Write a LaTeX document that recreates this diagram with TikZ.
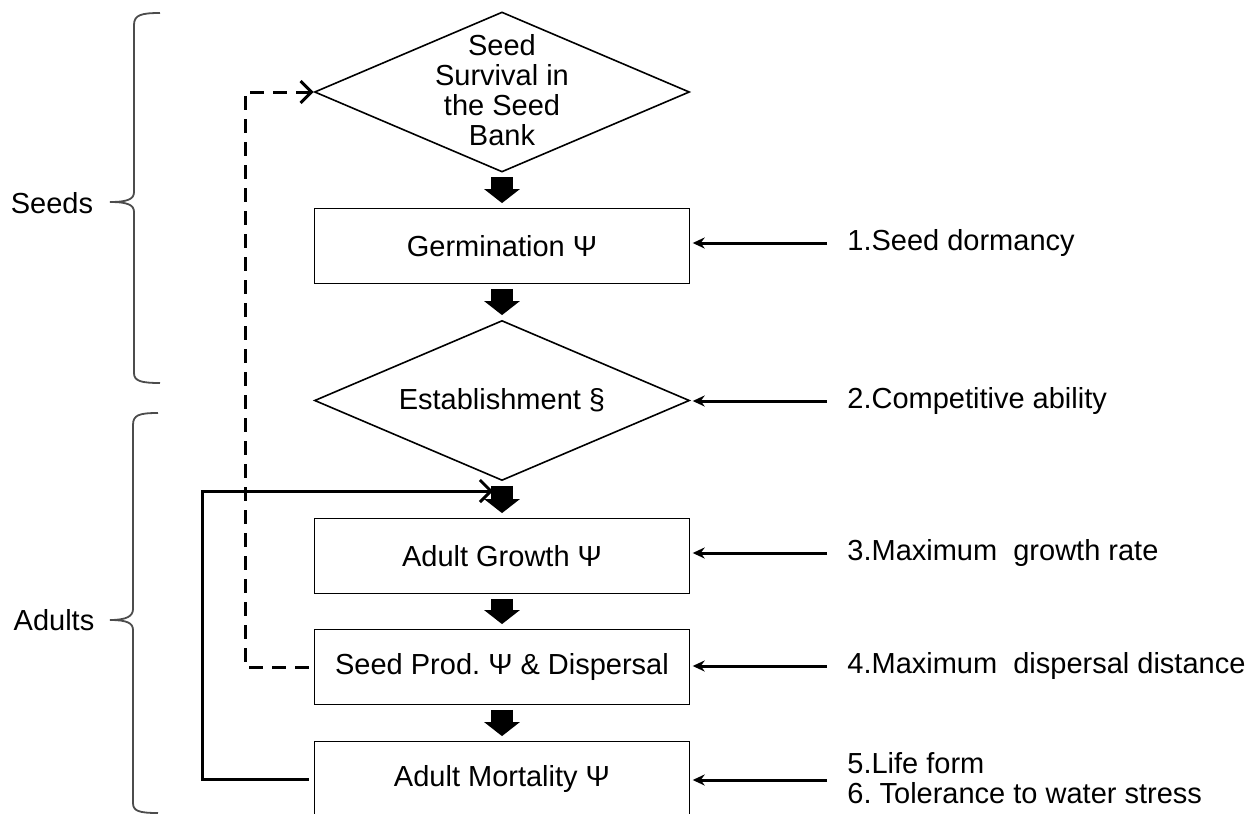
\documentclass[tikz,border=0pt]{standalone}
\usepackage{fontspec}
\setmainfont{Liberation Sans}
\usetikzlibrary{shapes.geometric,arrows.meta}

\begin{document}
\begin{tikzpicture}[x=0.5pt, y=-0.5pt,
    every node/.style={font=\fontsize{14.5}{15}\selectfont},
    box/.style={draw, line width=0.8pt, minimum width=187.5pt, minimum height=37.5pt, inner sep=0pt},
    dia/.style={draw, diamond, aspect=2.34, line width=0.8pt, minimum width=187.5pt, minimum height=80pt, inner sep=0pt},
    flow/.style={line width=11pt, -{Triangle[width=17.5pt,length=7pt]}, shorten <=2.3pt, shorten >=2.3pt},
    trait/.style={anchor=west, inner sep=0pt, align=left},
    traitline/.style={line width=1.5pt, -{Stealth[length=6pt,width=5.5pt]}, shorten <=10pt, shorten >=1.2pt},
    back/.style={line width=1.5pt, -{Straight Barb[length=5.5pt,width=11pt]}},
    brc/.style={line width=0.9pt, black!70}]

    \useasboundingbox (0,0) rectangle (1254,814);

    \node[dia] (SB) at (502,92) {};
    \node[align=center] (SBt) at (502,90) {Seed\\Survival in\\the Seed\\Bank};
    \node[box] (GE) at (502,246) {Germination Ψ};
    \node[dia] (ES) at (502,400.5) {Establishment §};
    \node[box] (AG) at (502,556) {Adult Growth Ψ};
    \node[box] (SP) at (502,667) {Seed Prod.\ Ψ \& Dispersal};
    \node[box] (AM) at (502,779) {Adult Mortality Ψ};

    \node[trait] (T1) at (847,243) {1.Seed dormancy};
    \node[trait] (T2) at (847,401) {2.Competitive ability};
    \node[trait] (T3) at (847,553) {3.Maximum~~growth rate};
    \node[trait] (T4) at (847,666) {4.Maximum~~dispersal distance};
    \node[trait] (T5) at (847,778) {5.Life form\\6.\ Tolerance to water stress};

    \node (Se) at (52,203) {Seeds};
    \node (Ad) at (54,620) {Adults};

    \coordinate (FB) at (493,491);
    \coordinate (FBc) at (202,491);
    \coordinate (DSc) at (245,92);

    \draw[flow] (SB.south) to (GE.north);
    \draw[flow] (GE.south) to (ES.north);
    \draw[flow] (ES.south) to (AG.north);
    \draw[flow] (AG.south) to (SP.north);
    \draw[flow] (SP.south) to (AM.north);

    \draw[traitline] (T1.west) to (T1.west -| GE.east);
    \draw[traitline] (T2.west) to (T2.west -| ES.east);
    \draw[traitline] (T3.west) to (T3.west -| AG.east);
    \draw[traitline] (T4.west) to (T4.west -| SP.east);
    \draw[traitline] ([yshift=-1pt]T5.west) to ([yshift=-1pt]T5.west -| AM.east);

    % feedback loops
    \draw[back, shorten <=2.5pt] (AM.west) -| (FBc) -- (FB);
    \draw[back, dash pattern=on 7pt off 4.5pt, shorten <=2.5pt] (SP.west) -| (DSc) -- (SB.west);

    \draw[brc] (160,13) .. controls (141,13) and (134,15) .. (134,25) -- (134,192)
        .. controls (134,199) and (128,202) .. (110,202)
        .. controls (128,202) and (134,205) .. (134,212) -- (134,373)
        .. controls (134,381) and (141,383) .. (160,383);
    \draw[brc] (158,413) .. controls (139,413) and (133,415) .. (133,425) -- (133,609)
        .. controls (133,616) and (127,620) .. (110,620)
        .. controls (127,620) and (133,623) .. (133,630) -- (133,803)
        .. controls (133,811) and (139,813) .. (158,813);
\end{tikzpicture}
\end{document}
